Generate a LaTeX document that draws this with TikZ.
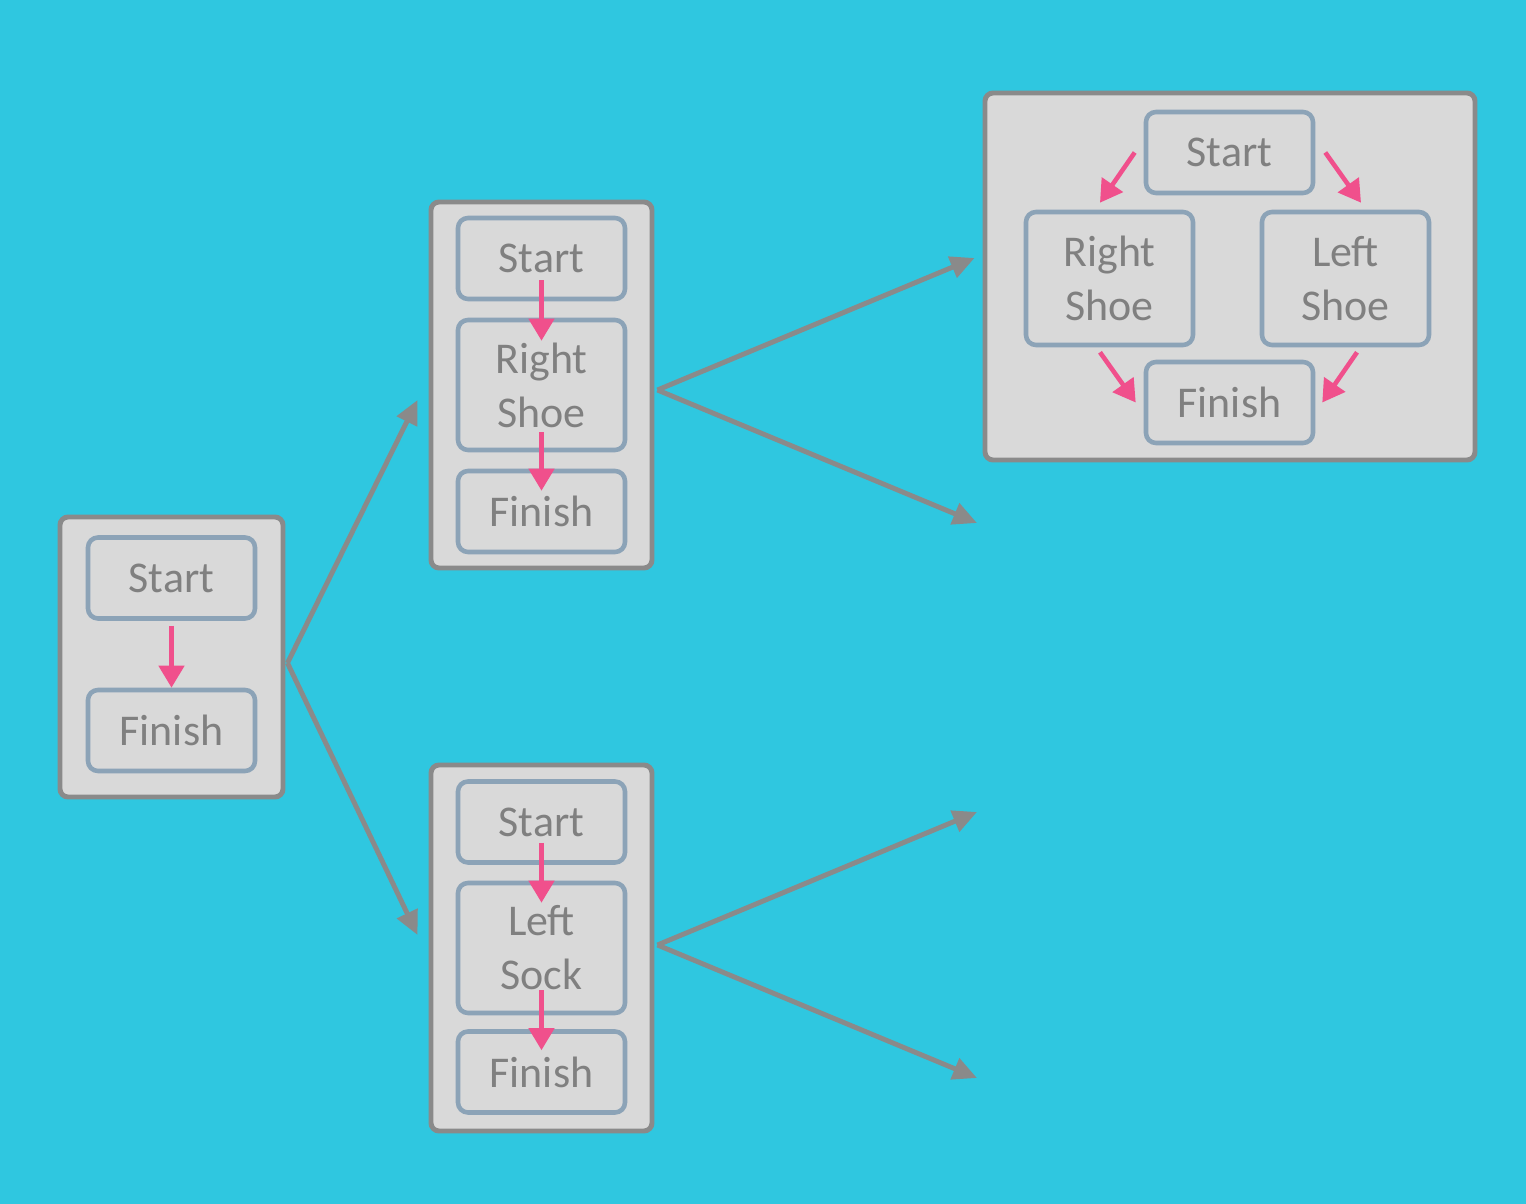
\documentclass[tikz,border=0pt]{standalone}
\usepackage{fontspec}
\setmainfont{Carlito}
\usepackage{xcolor}
\definecolor{sky}{RGB}{47,199,224}
\definecolor{card}{RGB}{217,217,217}
\definecolor{rim}{RGB}{138,138,138}
\definecolor{slate}{RGB}{140,163,183}
\definecolor{ink}{RGB}{128,128,128}
\definecolor{rose}{RGB}{240,80,140}
\usepackage{tikz}
\usetikzlibrary{arrows.meta,positioning,calc}

\begin{document}
\begin{tikzpicture}[
  plan/.style={rectangle,draw=rim,fill=card,line width=1.4pt,
               rounded corners=0.08cm,inner sep=0pt},
  task/.style={rectangle,draw=slate,fill=card,line width=1.3pt,
               rounded corners=0.1cm,minimum width=1.67cm,
               minimum height=0.81cm,inner sep=0pt,align=center,
               font=\fontsize{12.5}{15.4}\selectfont\color{ink}},
  tall/.style={task,minimum height=1.30cm},
  order/.style={draw=rose,line width=1.3pt,
                -{Triangle[length=0.22cm,width=0.25cm]}},
  branch/.style={draw=rim,line width=1.4pt,
               -{Triangle[length=0.24cm,width=0.22cm]}},
]
  \fill[sky] (0,0) rectangle (15.26,-12.04);
  \useasboundingbox (0,0) rectangle (15.26,-12.04);

  % plans
  \node[plan,minimum width=2.23cm,minimum height=2.80cm] (pA) at (1.715,-6.57) {};
  \node[plan,minimum width=2.21cm,minimum height=3.66cm] (pB) at (5.415,-3.85) {};
  \node[plan,minimum width=2.21cm,minimum height=3.66cm] (pC) at (5.415,-9.48) {};
  \node[plan,minimum width=4.90cm,minimum height=3.67cm] (pD) at (12.30,-2.765) {};

  % first plan
  \node[task] (aS) at (1.715,-5.78) {Start};
  \node[task] (aF) at (1.715,-7.305) {Finish};
  \draw[order] ($(aS.south)+(0,-0.05)$) -- (aF.north);

  % right shoe plan
  \node[task] (bS) at (5.415,-2.585) {Start};
  \node[tall] (bR) at (5.415,-3.85) {Right\\Shoe};
  \node[task] (bF) at (5.415,-5.115) {Finish};
  \draw[order] ($(bS.south)+(0,0.21)$) -- ($(bR.north)+(0,-0.23)$);
  \draw[order] ($(bR.south)+(0,0.2)$) -- ($(bF.north)+(0,-0.22)$);

  % left sock plan
  \node[task] (cS) at (5.415,-8.22) {Start};
  \node[tall] (cL) at (5.415,-9.48) {Left\\Sock};
  \node[task] (cF) at (5.415,-10.72) {Finish};
  \draw[order] ($(cS.south)+(0,0.22)$) -- ($(cL.north)+(0,-0.22)$);
  \draw[order] ($(cL.south)+(0,0.25)$) -- ($(cF.north)+(0,-0.21)$);

  % both shoes plan
  \node[task] (dS) at (12.295,-1.525) {Start};
  \node[task,minimum height=1.33cm] (dR) at (11.095,-2.785) {Right\\Shoe};
  \node[task,minimum height=1.33cm] (dL) at (13.455,-2.785) {Left\\Shoe};
  \node[task] (dF) at (12.295,-4.025) {Finish};
  \draw[order] ($(dS.west)+(-0.09,0)$) -- ($(dR.north)+(-0.095,0.07)$);
  \draw[order] ($(dS.east)+(0.10,0)$) -- ($(dL.north)+(0.155,0.07)$);
  \draw[order] ($(dR.south)+(-0.095,-0.05)$) -- ($(dF.west)+(-0.08,0)$);
  \draw[order] ($(dL.south)+(0.115,-0.05)$) -- ($(dF.east)+(0.07,0)$);

  % open ends
  \coordinate (bOpen) at (9.77,-5.23);
  \coordinate (cUp)   at (9.77,-8.12);
  \coordinate (cDown) at (9.77,-10.78);

  % branches
  \draw[branch] ($(pA.east)+(0.02,-0.06)$) -- ($(pB.west)+(-0.11,-0.15)$);
  \draw[branch] ($(pA.east)+(0.02,-0.06)$) -- ($(pC.west)+(-0.11,0.13)$);
  \draw[branch] ($(pB.east)+(0.03,-0.05)$) -- ($(pD.west)+(-0.08,0.185)$);
  \draw[branch] ($(pB.east)+(0.03,-0.05)$) -- (bOpen);
  \draw[branch] ($(pC.east)+(0.03,0.03)$) -- (cUp);
  \draw[branch] ($(pC.east)+(0.03,0.03)$) -- (cDown);
\end{tikzpicture}
\end{document}
